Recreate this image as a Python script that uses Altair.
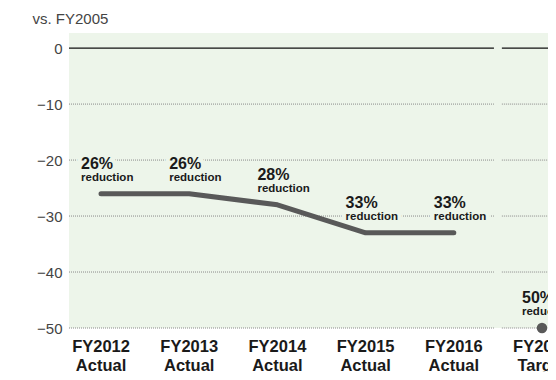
import altair as alt
import pandas as pd

# ---- data ----
categories = ["FY2012", "FY2013", "FY2014", "FY2015", "FY2016", "FY2030"]
kinds = ["Actual", "Actual", "Actual", "Actual", "Actual", "Target"]
values = [-26, -26, -28, -33, -33, -50]
pct_labels = ["26%", "26%", "28%", "33%", "33%", "50%"]
sub_labels = ["reduction"] * 6
y_ticks = [0, -10, -20, -30, -40, -50]

BG = "#edf5ea"
FONT = "Liberation Sans"
TXT = "#1a1a1a"

df = pd.DataFrame({
    "idx": list(range(len(categories))),
    "cat": categories,
    "kind": kinds,
    "value": values,
    "pct": pct_labels,
    "sub": sub_labels,
})

X_DOMAIN = [-0.363, 5.068]
xs = alt.Scale(domain=X_DOMAIN, nice=False, zero=False)
ys = alt.Scale(domain=[-50, 2.7], nice=False, zero=False)

n_act = kinds.count("Actual")
gap_c = n_act - 0.5
gap_h = 0.045
grid_rows = []
for t in y_ticks:
    grid_rows.append({"gy": t, "gx1": X_DOMAIN[0], "gx2": gap_c - gap_h, "zero": int(t == 0)})
    grid_rows.append({"gy": t, "gx1": gap_c + gap_h, "gx2": X_DOMAIN[1], "zero": int(t == 0)})
grid = pd.DataFrame(grid_rows)

yaxis = alt.Axis(
    values=y_ticks, grid=False, domain=False, ticks=False, labelPadding=7,
    labelFont=FONT, labelFontSize=15, labelColor="#444",
    title="vs. FY2005", titleAngle=0, titleAlign="left", titleBaseline="alphabetic",
    titleX=-37, titleY=-10, titleFont=FONT, titleFontSize=15,
    titleFontWeight="normal", titleColor="#444",
)

base = alt.Chart(df)

grid_dotted = alt.Chart(grid).transform_filter("datum.zero == 0").mark_rule(
    color="#8a8a8a", strokeWidth=1, strokeDash=[1, 1]
).encode(
    x=alt.X("gx1:Q", scale=xs, axis=None),
    x2="gx2:Q",
    y=alt.Y("gy:Q", scale=ys, axis=yaxis),
)
grid_zero = alt.Chart(grid).transform_filter("datum.zero == 1").mark_rule(
    color="#111", strokeWidth=1.2
).encode(
    x=alt.X("gx1:Q", scale=xs, axis=None),
    x2="gx2:Q",
    y=alt.Y("gy:Q", scale=ys),
)

line = base.transform_filter("datum.kind == 'Actual'").mark_line(
    color="#595959", strokeWidth=5, strokeCap="round", strokeJoin="round"
).encode(
    x=alt.X("idx:Q", scale=xs, axis=None),
    y=alt.Y("value:Q", scale=ys),
)

point = base.transform_filter("datum.kind == 'Target'").mark_point(
    filled=True, color="#595959", size=110, opacity=1
).encode(
    x=alt.X("idx:Q", scale=xs, axis=None),
    y=alt.Y("value:Q", scale=ys),
)


def lbl(field, size, dy, halo):
    if halo:
        mk = base.mark_text(align="left", baseline="alphabetic", dx=-20, dy=dy,
                            font=FONT, fontSize=size, fontWeight="bold",
                            color=BG, stroke=BG, strokeWidth=9)
    else:
        mk = base.mark_text(align="left", baseline="alphabetic", dx=-20, dy=dy,
                            font=FONT, fontSize=size, fontWeight="bold", color=TXT)
    return mk.encode(
        x=alt.X("idx:Q", scale=xs, axis=None),
        y=alt.Y("value:Q", scale=ys),
        text=alt.Text(f"{field}:N"),
    )


xlab1 = base.mark_text(font=FONT, fontSize=16.5, fontWeight="bold", color=TXT,
                       baseline="alphabetic", align="center").encode(
    x=alt.X("idx:Q", scale=xs, axis=None), y=alt.value(319), text="cat:N")
xlab2 = base.mark_text(font=FONT, fontSize=16.5, fontWeight="bold", color=TXT,
                       baseline="alphabetic", align="center").encode(
    x=alt.X("idx:Q", scale=xs, axis=None), y=alt.value(338), text="kind:N")

chart = alt.layer(
    grid_dotted, grid_zero,
    lbl("pct", 16, -25, True), lbl("sub", 11.5, -13, True),
    line, point,
    lbl("pct", 16, -25, False), lbl("sub", 11.5, -13, False),
    xlab1, xlab2,
).properties(
    width=479, height=295,
    autosize=alt.AutoSizeParams(type="none"),
    padding={"left": 61, "top": 25, "right": 0, "bottom": 44},
    background="white",
).configure_view(fill=BG, strokeWidth=0)

chart.save("out.html", embed_options={"renderer": "svg", "actions": False})
